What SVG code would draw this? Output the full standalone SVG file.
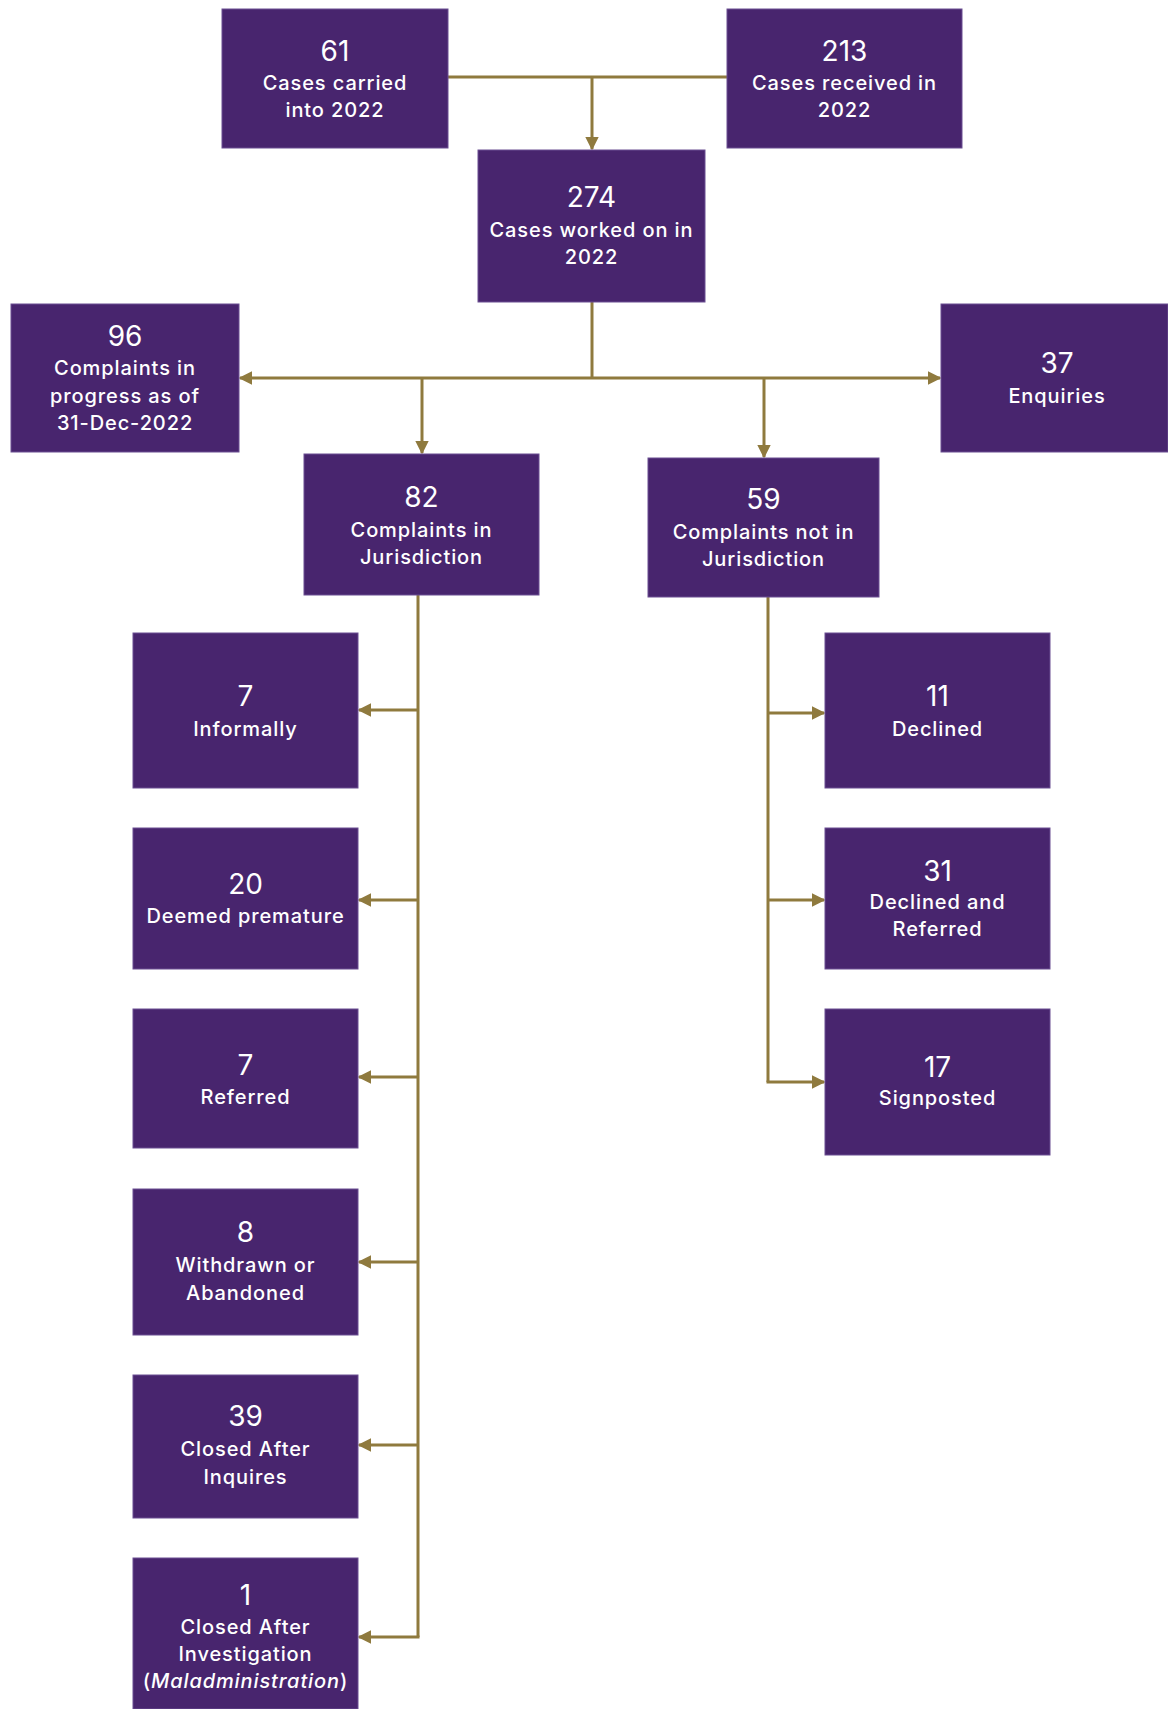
<svg xmlns="http://www.w3.org/2000/svg" width="1168" height="1709" viewBox="0 0 1168 1709">
<defs>
<style>
.box{fill:#48256e;stroke:#6b4f92;stroke-width:1}
.num{font-family:Inter,"Liberation Sans",sans-serif;font-size:28px;fill:#ffffff;text-anchor:middle;dominant-baseline:central}
.lbl{font-family:Inter,"Liberation Sans",sans-serif;font-size:20px;font-weight:500;letter-spacing:0.9px;fill:#ffffff;text-anchor:middle;dominant-baseline:central}
.con{fill:none;stroke:#8f7a3e;stroke-width:3}
</style>
<marker id="ah" viewBox="0 0 10 10" refX="9" refY="5" markerWidth="4.5" markerHeight="4.5" orient="auto" markerUnits="strokeWidth">
<path d="M0,0 L10,5 L0,10 z" fill="#8f7a3e"/>
</marker>
</defs>
<rect width="1168" height="1709" fill="#ffffff"/>
<g id="connectors">
<path class="con" d="M448,77 H727"/>
<path class="con" d="M592,77 V149" marker-end="url(#ah)"/>
<path class="con" d="M592,302 V378"/>
<path class="con" d="M592,378 H240" marker-end="url(#ah)"/>
<path class="con" d="M592,378 H940" marker-end="url(#ah)"/>
<path class="con" d="M422,378 V453" marker-end="url(#ah)"/>
<path class="con" d="M764,378 V457" marker-end="url(#ah)"/>
<path class="con" d="M418,595 V1637"/>
<path class="con" d="M418,710 H359" marker-end="url(#ah)"/>
<path class="con" d="M418,900 H359" marker-end="url(#ah)"/>
<path class="con" d="M418,1077 H359" marker-end="url(#ah)"/>
<path class="con" d="M418,1262 H359" marker-end="url(#ah)"/>
<path class="con" d="M418,1445 H359" marker-end="url(#ah)"/>
<path class="con" d="M419.5,1637 H359" marker-end="url(#ah)"/>
<path class="con" d="M768,597 V1082"/>
<path class="con" d="M768,713 H824" marker-end="url(#ah)"/>
<path class="con" d="M768,900 H824" marker-end="url(#ah)"/>
<path class="con" d="M766.5,1082 H824" marker-end="url(#ah)"/>
</g>
<g id="n61"><rect class="box" x="222" y="9" width="226" height="139"/><text class="num" x="335" y="51">61</text><text class="lbl" x="335" y="83">Cases carried</text><text class="lbl" x="335" y="110">into 2022</text></g>
<g id="n213"><rect class="box" x="727" y="9" width="235" height="139"/><text class="num" x="844.5" y="51">213</text><text class="lbl" x="844.5" y="83">Cases received in</text><text class="lbl" x="844.5" y="110">2022</text></g>
<g id="n274"><rect class="box" x="478" y="150" width="227" height="152"/><text class="num" x="591.5" y="197">274</text><text class="lbl" x="591.5" y="230">Cases worked on in</text><text class="lbl" x="591.5" y="257">2022</text></g>
<g id="n96"><rect class="box" x="11" y="304" width="228" height="148"/><text class="num" x="125" y="336">96</text><text class="lbl" x="125" y="368">Complaints in</text><text class="lbl" x="125" y="396">progress as of</text><text class="lbl" x="125" y="423">31-Dec-2022</text></g>
<g id="n37"><rect class="box" x="941" y="304" width="227" height="148"/><text class="num" x="1057" y="363">37</text><text class="lbl" x="1057" y="396">Enquiries</text></g>
<g id="n82"><rect class="box" x="304" y="454" width="235" height="141"/><text class="num" x="421.5" y="497">82</text><text class="lbl" x="421.5" y="530">Complaints in</text><text class="lbl" x="421.5" y="557">Jurisdiction</text></g>
<g id="n59"><rect class="box" x="648" y="458" width="231" height="139"/><text class="num" x="763.5" y="499">59</text><text class="lbl" x="763.5" y="532">Complaints not in</text><text class="lbl" x="763.5" y="559">Jurisdiction</text></g>
<g id="n7a"><rect class="box" x="133" y="633" width="225" height="155"/><text class="num" x="245.5" y="696">7</text><text class="lbl" x="245.5" y="729">Informally</text></g>
<g id="n20"><rect class="box" x="133" y="828" width="225" height="141"/><text class="num" x="245.5" y="884">20</text><text class="lbl" x="245.5" y="916">Deemed premature</text></g>
<g id="n7b"><rect class="box" x="133" y="1009" width="225" height="139"/><text class="num" x="245.5" y="1065">7</text><text class="lbl" x="245.5" y="1097">Referred</text></g>
<g id="n8"><rect class="box" x="133" y="1189" width="225" height="146"/><text class="num" x="245.5" y="1232">8</text><text class="lbl" x="245.5" y="1265">Withdrawn or</text><text class="lbl" x="245.5" y="1293">Abandoned</text></g>
<g id="n39"><rect class="box" x="133" y="1375" width="225" height="143"/><text class="num" x="245.5" y="1416">39</text><text class="lbl" x="245.5" y="1449">Closed After</text><text class="lbl" x="245.5" y="1477">Inquires</text></g>
<g id="n1"><rect class="box" x="133" y="1558" width="225" height="151"/><text class="num" x="245.5" y="1595">1</text><text class="lbl" x="245.5" y="1627">Closed After</text><text class="lbl" x="245.5" y="1654">Investigation</text><text class="lbl" x="245.5" y="1681">(<tspan font-style="italic">Maladministration</tspan>)</text></g>
<g id="n11"><rect class="box" x="825" y="633" width="225" height="155"/><text class="num" x="937.5" y="696">11</text><text class="lbl" x="937.5" y="729">Declined</text></g>
<g id="n31"><rect class="box" x="825" y="828" width="225" height="141"/><text class="num" x="937.5" y="871">31</text><text class="lbl" x="937.5" y="902">Declined and</text><text class="lbl" x="937.5" y="929">Referred</text></g>
<g id="n17"><rect class="box" x="825" y="1009" width="225" height="146"/><text class="num" x="937.5" y="1067">17</text><text class="lbl" x="937.5" y="1098">Signposted</text></g>
</svg>
